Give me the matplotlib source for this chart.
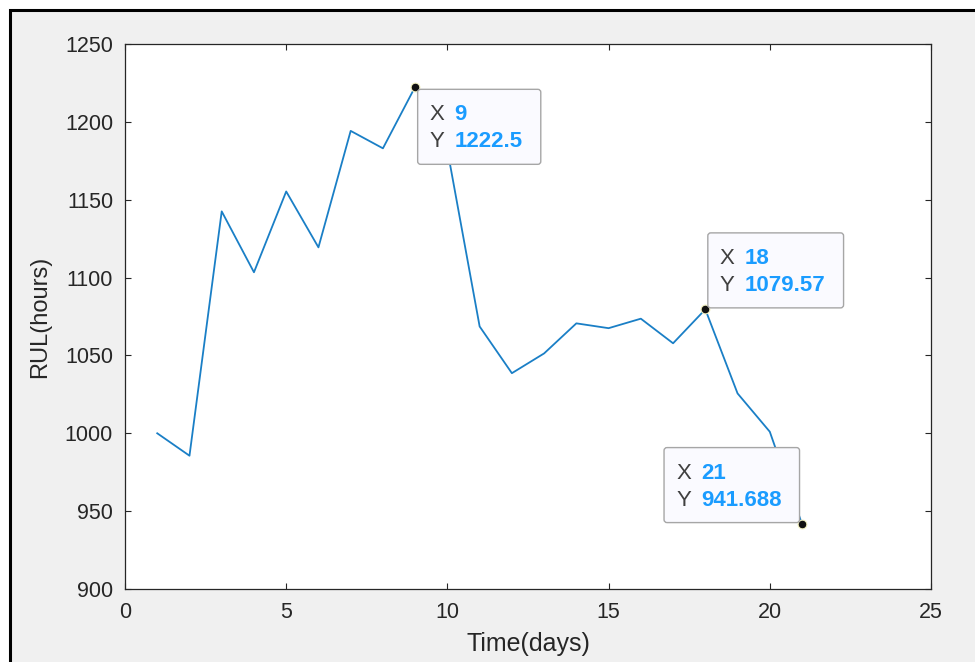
import matplotlib
matplotlib.use("Agg")
import matplotlib.pyplot as plt
import matplotlib.transforms as mtransforms
from matplotlib.patches import FancyBboxPatch, Rectangle

# Remaining useful life estimate per day
days = list(range(1, 22))
rul = [1000.0, 985.6, 1142.5, 1103.4, 1155.3, 1119.4, 1194.2, 1183.0,
       1222.5, 1182.0, 1068.6, 1038.6, 1051.3, 1070.6, 1067.5, 1073.6,
       1057.8, 1079.57, 1025.6, 1001.0, 941.688]

# Data tips: which day, and which side of the point the box sits on
tip_days = [9, 18, 21]
tip_sides = ["se", "ne", "nw"]

xticks = [0, 5, 10, 15, 20, 25]
yticks = [900, 950, 1000, 1050, 1100, 1150, 1200, 1250]

W, H, DPI = 975, 662, 100
FONT = "Liberation Sans"
TXT = "#262626"
LINE = "#1a7fc6"
TIPVAL = "#1a9cff"
TIPSIZE = 16

plt.rcParams["font.family"] = [FONT, "DejaVu Sans"]

fig = plt.figure(figsize=(W / DPI, H / DPI), dpi=DPI)
fig.patch.set_facecolor("white")

# grey figure panel with a dark frame on its top and left edges
panel = Rectangle((10 / W, -0.05), 1.1, 1 - 10 / H + 0.05,
                  transform=fig.transFigure, facecolor="#f0f0f0",
                  edgecolor="black", linewidth=2.2, zorder=-10, clip_on=False)
fig.patches.append(panel)

ax = fig.add_axes([125 / W, (H - 589) / H, 806 / W, 545 / H])
ax.set_zorder(1)
ax.set_facecolor("white")
ax.plot(days, rul, color=LINE, linewidth=1.3, zorder=3)

ax.set_xlim(0, 25)
ax.set_ylim(900, 1250)
ax.set_xticks(xticks)
ax.set_yticks(yticks)
ax.tick_params(direction="in", length=4.3, width=0.8, top=True, right=True,
               colors=TXT, labelsize=15.5)
ax.tick_params(axis="x", pad=9.5)
ax.tick_params(axis="y", pad=8.6)
for sp in ax.spines.values():
    sp.set_color(TXT)
    sp.set_linewidth(0.9)

ax.set_xlabel("Time(days)", fontsize=18, color=TXT, labelpad=6)
ax.set_ylabel("RUL(hours)", fontsize=17, color=TXT, labelpad=10)

fig.canvas.draw()
renderer = fig.canvas.get_renderer()

for day, side in zip(tip_days, tip_sides):
    val = rul[days.index(day)]
    px, py = ax.transData.transform((day, val))
    base = mtransforms.Affine2D().translate(px, py)

    # marker
    ax.plot([day], [val], marker="o", markersize=6.3, color="#111111",
            markeredgecolor="#f2f0c0", markeredgewidth=0.8, zorder=6,
            clip_on=False)

    xs = f"{day:g}"
    ys = f"{val:g}"
    # measure the value text to size the box
    probe = fig.text(0, 0, ys, fontsize=TIPSIZE, fontweight="bold")
    vw = probe.get_window_extent(renderer).width
    probe.remove()
    bw = 37 + vw + 18
    bh = 75

    gap = 2.5
    if side == "se":
        x0, y0 = gap, -gap - bh
    elif side == "ne":
        x0, y0 = gap, gap - 1
    else:
        x0, y0 = -gap - bw, gap - 1

    box = FancyBboxPatch((x0, y0), bw, bh,
                         boxstyle="round,pad=0,rounding_size=3",
                         facecolor="#fafaff", edgecolor="#a6a6a6",
                         linewidth=1.0, transform=base, zorder=5,
                         clip_on=False)
    fig.patches.append(box)

    top = y0 + bh
    for row, (key, text) in enumerate([("X", xs), ("Y", ys)]):
        cy = top - 25.5 - row * 27
        fig.text(x0 + 12, cy, key, transform=base, fontsize=TIPSIZE,
                 color="#404040", va="center", ha="left", zorder=7)
        fig.text(x0 + 37, cy, text, transform=base, fontsize=TIPSIZE,
                 color=TIPVAL, fontweight="bold", va="center", ha="left",
                 zorder=7)

fig.savefig("out.png", dpi=DPI, facecolor=fig.get_facecolor())
